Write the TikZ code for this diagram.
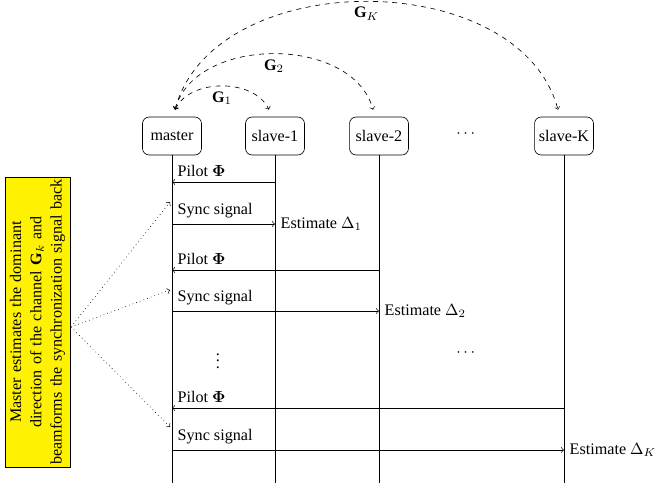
\documentclass[tikz,border=0pt]{standalone}
\usepackage{fontspec}
\setmainfont{Liberation Serif}
\usepackage{amsmath}
\usetikzlibrary{positioning}

\begin{document}
\begin{tikzpicture}[x=0.62pt,y=-0.62pt,>=to]
\tikzstyle{party}=[draw,rounded corners=4pt,minimum width=36.5pt,minimum height=23.5pt,inner sep=2pt]
\tikzstyle{msg}=[->]
\tikzstyle{chan}=[<->,dashed]
\tikzstyle{hint}=[->,dotted]
\useasboundingbox (0,0) rectangle (657,483);

%nodes on top
\node[party] (master) at (172,136) {master};
\node[party] (s1) at (275,136) {slave-1};
\node[party] (s2) at (379,136) {slave-2};
\node (hdots) at (467,134) {$\cdots$};
\node[party] (sK) at (564,136) {slave-K};

%lifelines
\coordinate (bot) at (0,483);
\draw (master) -- (master |- bot);
\draw (s1) -- (s1 |- bot);
\draw (s2) -- (s2 |- bot);
\draw (sK) -- (sK |- bot);

%channels
\coordinate (mtop) at ([shift={(3,-7)}]master.north);
\draw[chan] (mtop) to[out=65,in=115,looseness=0.95] node[midway,below] {$\mathbf{G}_1$} ([shift={(-6,-7)}]s1.north);
\draw[chan] (mtop) to[out=75,in=105] node[midway,below] {$\mathbf{G}_2$} ([shift={(-6,-7)}]s2.north);
\draw[chan] (mtop) to[out=75,in=105] node[midway,below] {$\mathbf{G}_K$} ([shift={(-6,-7)}]sK.north);

%rows of messages
\coordinate (r1) at (0,182);
\coordinate (r2) at (0,224);
\coordinate (r3) at (0,270);
\coordinate (r4) at (0,311);
\coordinate (r5) at (0,408);
\coordinate (r6) at (0,450);

\draw[msg] (s1 |- r1) -- (master |- r1);
\node[above right] at (master |- r1) {Pilot $\boldsymbol{\Phi}$};
\draw[msg] (master |- r2) -- (s1 |- r2) node[right] {Estimate $\Delta_1$};
\node[above right] at (master |- r2) {Sync signal};

\draw[msg] (s2 |- r3) -- (master |- r3);
\node[above right] at (master |- r3) {Pilot $\boldsymbol{\Phi}$};
\draw[msg] (master |- r4) -- (s2 |- r4) node[right] {Estimate $\Delta_2$};
\node[above right] at (master |- r4) {Sync signal};

\node (vdots) at (218,356) {$\vdots$};
\node (mdots) at (467,353) {$\cdots$};

\draw[msg] (sK |- r5) -- (master |- r5);
\node[above right] at (master |- r5) {Pilot $\boldsymbol{\Phi}$};
\draw[msg] (master |- r6) -- (sK |- r6) node[right] {Estimate $\Delta_K$};
\node[above right] at (master |- r6) {Sync signal};

%yellow note on the left
\node[draw,fill=yellow,rotate=90,inner xsep=0pt,inner ysep=1pt,text width=179.8pt,minimum height=40.3pt,align=center,font=\linespread{1.05}\selectfont] (note) at (37.5,322)
{Master estimates the dominant\\ direction of the channel $\mathbf{G}_k$ and\\ beamforms the synchronization signal back};

%dotted hints
\coordinate (fan) at (71,327);
\coordinate (t1) at (170,202);
\coordinate (t2) at (170,290);
\coordinate (tK) at (170,427);
\draw[hint] (fan) -- (t1);
\draw[hint] (fan) -- (t2);
\draw[hint] (fan) -- (tK);
\end{tikzpicture}
\end{document}
